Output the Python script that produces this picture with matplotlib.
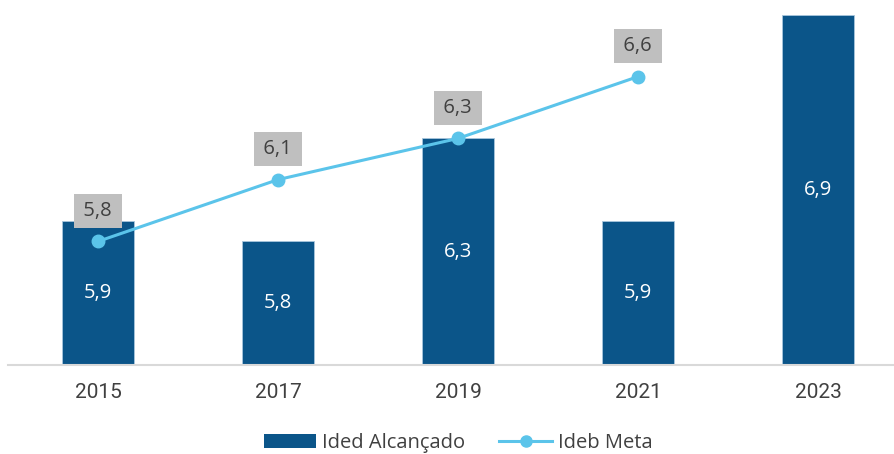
import matplotlib
matplotlib.use("Agg")
import matplotlib.pyplot as plt
from matplotlib.patches import Patch
from matplotlib.lines import Line2D

years = ["2015", "2017", "2019", "2021", "2023"]
alcancado = [5.9, 5.8, 6.3, 5.9, 6.9]
meta_years = ["2015", "2017", "2019", "2021"]
meta = [5.8, 6.1, 6.3, 6.6]

bar_color = "#0B5589"
line_color = "#5BC4EA"
text_color = "#404040"
lab_font = ["Open Sans", "DejaVu Sans"]

fig = plt.figure(figsize=(8.94, 4.54), dpi=100)
ax = fig.add_axes([8/894, 89/454, 900/894, 365/454])

x = list(range(len(years)))
ax.bar(x, alcancado, width=0.4, color=bar_color, edgecolor="#A9C6DD", linewidth=0.6, zorder=2)
mx = [years.index(y) for y in meta_years]
ax.plot(mx, meta, color=line_color, lw=2.2, marker="o", markersize=9, zorder=3)

ax.set_xlim(-0.5, len(years) - 0.5)
ax.set_ylim(5.2, 6.972)

for xi, v in zip(x, alcancado):
    ax.text(xi, 5.2 + (v - 5.2) / 2, f"{v:.1f}".replace(".", ","), ha="center", va="center",
            color="white", fontsize=14.5, family=lab_font, zorder=4)

for xi, v in zip(mx, meta):
    ax.annotate("\u2009" + f"{v:.1f}".replace(".", ",") + "\u2009", (xi, v), xytext=(0, 22),
                textcoords="offset points",
                ha="center", va="center", color=text_color, fontsize=14.5,
                family=lab_font, zorder=5,
                bbox=dict(boxstyle="square,pad=0.33", fc="#BFBFBF", ec="none"))

for s in ["top", "right", "left"]:
    ax.spines[s].set_visible(False)
ax.spines["bottom"].set_color("#D9D9D9")
ax.spines["bottom"].set_linewidth(1.5)
ax.set_yticks([])
ax.set_xticks(x)
ax.set_xticklabels(years, fontsize=15, color=text_color, family=["Roboto", "DejaVu Sans"])
ax.tick_params(axis="x", length=0, pad=13)

handles = [Patch(facecolor=bar_color, edgecolor="none"),
           Line2D([0], [0], color=line_color, lw=2.2, marker="o", markersize=8)]
fig.legend(handles, ["Ided Alcançado", "Ideb Meta"], loc="center", bbox_to_anchor=(458/894, 1 - 443/454),
           ncol=2, frameon=False, prop={"family": lab_font, "size": 14.5},
           labelcolor=text_color, handlelength=2.6, handleheight=0.7, handletextpad=0.3,
           columnspacing=1.7, borderpad=0)

fig.savefig("out.png", dpi=100)
